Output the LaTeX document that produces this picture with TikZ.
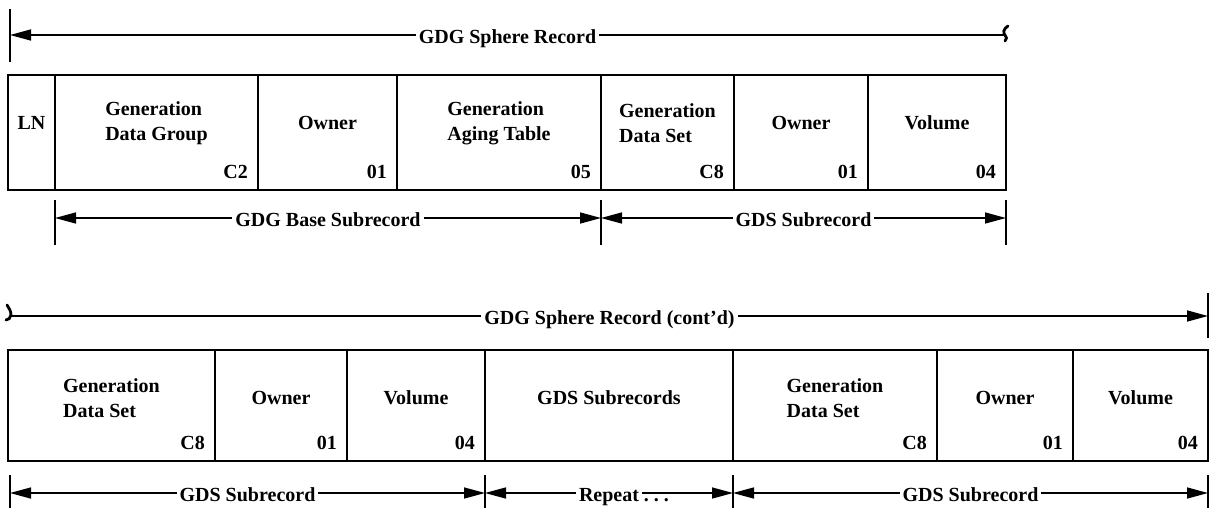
\documentclass[tikz,border=0pt]{standalone}
\usepackage{fontspec}
\setmainfont{Liberation Serif}
\usetikzlibrary{arrows.meta}

\begin{document}
\begin{tikzpicture}
      [ x=1pt, y=-1pt
      , font=\bfseries\fontsize{20}{25}\selectfont
      , >={Triangle[length=21pt,width=11pt]}
      , field/.style={draw, line width=2.4pt, inner sep=0pt, outer sep=0pt, minimum width=#1pt}
      , toprow/.style={field=#1, minimum height=115pt}
      , botrow/.style={field=#1, minimum height=111pt}
      , fname/.style={anchor=center, yshift=-48pt, align=left, inner sep=0pt}
      , fnum/.style={anchor=base east, xshift=-10pt, yshift=12pt, inner sep=0pt}
      , dim/.style={line width=1.5pt}
      , dimtext/.style={fill=white, inner xsep=3pt, inner ysep=1pt, anchor=base, yshift=-8pt}
      , tick/.style={line width=2.2pt}
      , brk/.style={line width=2.8pt, line cap=round}
      ]
    \useasboundingbox (0,0) rectangle (1211,507);

    % first part of the record
    \node[toprow=47, label={[fname]north:LN}] (ln) at (31.5,132.5) {};
    \node[toprow=203, label={[fname]north:{Generation\\Data Group}}, label={[fnum]south east:C2}] (gdg) at (156.5,132.5) {};
    \node[toprow=139, label={[fname]north:Owner}, label={[fnum]south east:01}] (own1) at (327.5,132.5) {};
    \node[toprow=204, label={[fname]north:{Generation\\Aging Table}}, label={[fnum]south east:05}] (gat) at (499,132.5) {};
    \node[toprow=133, label={[fname]north:{Generation\\Data Set}}, label={[fnum]south east:C8}] (gds1) at (667.5,132.5) {};
    \node[toprow=134, label={[fname]north:Owner}, label={[fnum]south east:01}] (own2) at (801,132.5) {};
    \node[toprow=138, label={[fname]north:Volume}, label={[fnum]south east:04}] (vol1) at (937,132.5) {};

    % continued part
    \node[botrow=207, label={[fname]north:{Generation\\Data Set}}, label={[fnum]south east:C8}] (gds2) at (111.5,405.5) {};
    \node[botrow=132, label={[fname]north:Owner}, label={[fnum]south east:01}] (own3) at (281,405.5) {};
    \node[botrow=138, label={[fname]north:Volume}, label={[fnum]south east:04}] (vol2) at (416,405.5) {};
    \node[botrow=248, label={[fname]north:GDS Subrecords}] (subs) at (609,405.5) {};
    \node[botrow=204, label={[fname]north:{Generation\\Data Set}}, label={[fnum]south east:C8}] (gds3) at (835,405.5) {};
    \node[botrow=136, label={[fname]north:Owner}, label={[fnum]south east:01}] (own4) at (1005,405.5) {};
    \node[botrow=135, label={[fname]north:Volume}, label={[fnum]south east:04}] (vol3) at (1140.5,405.5) {};

    % span of the whole record, broken at the end of each part
    \coordinate (recA) at (10,35);
    \coordinate (recB) at (1005,35);
    \coordinate (recC) at (11,316);
    \coordinate (recD) at (vol3.east |- 0,316);
    \draw[tick] (recA) ++(0,-26) -- ++(0,53);
    \draw[tick] (recD) ++(0,-23) -- ++(0,45);
    \draw[dim, <-] (recA) -- node[dimtext] (rec1) {GDG Sphere Record} (recB);
    \draw[dim, ->] (recC) -- node[dimtext] (rec2) {GDG Sphere Record (cont'd)} (recD);
    \draw[brk] (1008,26) .. controls (1003,29) and (1003,33) .. (1005,35)
      .. controls (1007,37) and (1007,39) .. (1005,41);
    \draw[brk] (7,305) .. controls (9,308) and (11,311) .. (11,315)
      .. controls (11,318) and (8,320) .. (6,320);

    % subrecord spans
    \coordinate (s1) at (gdg.west |- 0,218);
    \coordinate (s2) at (gds1.west |- 0,218);
    \coordinate (s3) at (vol1.east |- 0,218);
    \foreach \c in {s1,s2,s3}
      \draw[tick] (\c) ++(0,-18) -- ++(0,45);
    \draw[dim, <->] (s1) -- node[dimtext] (base) {GDG Base Subrecord} (s2);
    \draw[dim, <->] (s2) -- node[dimtext] (gds) {GDS Subrecord} (s3);

    \coordinate (t1) at (10,493);
    \coordinate (t2) at (subs.west |- 0,493);
    \coordinate (t3) at (subs.east |- 0,493);
    \coordinate (t4) at (vol3.east |- 0,493);
    \foreach \c in {t1,t2,t3,t4}
      \draw[tick] (\c) ++(0,-18) -- ++(0,40);
    \draw[dim, <->] (t1) -- node[dimtext] (gdsA) {GDS Subrecord} (t2);
    \draw[dim, <->] (t2) -- node[dimtext] (rep) {Repeat\rlap{\ .\ .\ .}} (t3);
    \draw[dim, <->] (t3) -- node[dimtext] (gdsB) {GDS Subrecord} (t4);
\end{tikzpicture}
\end{document}
